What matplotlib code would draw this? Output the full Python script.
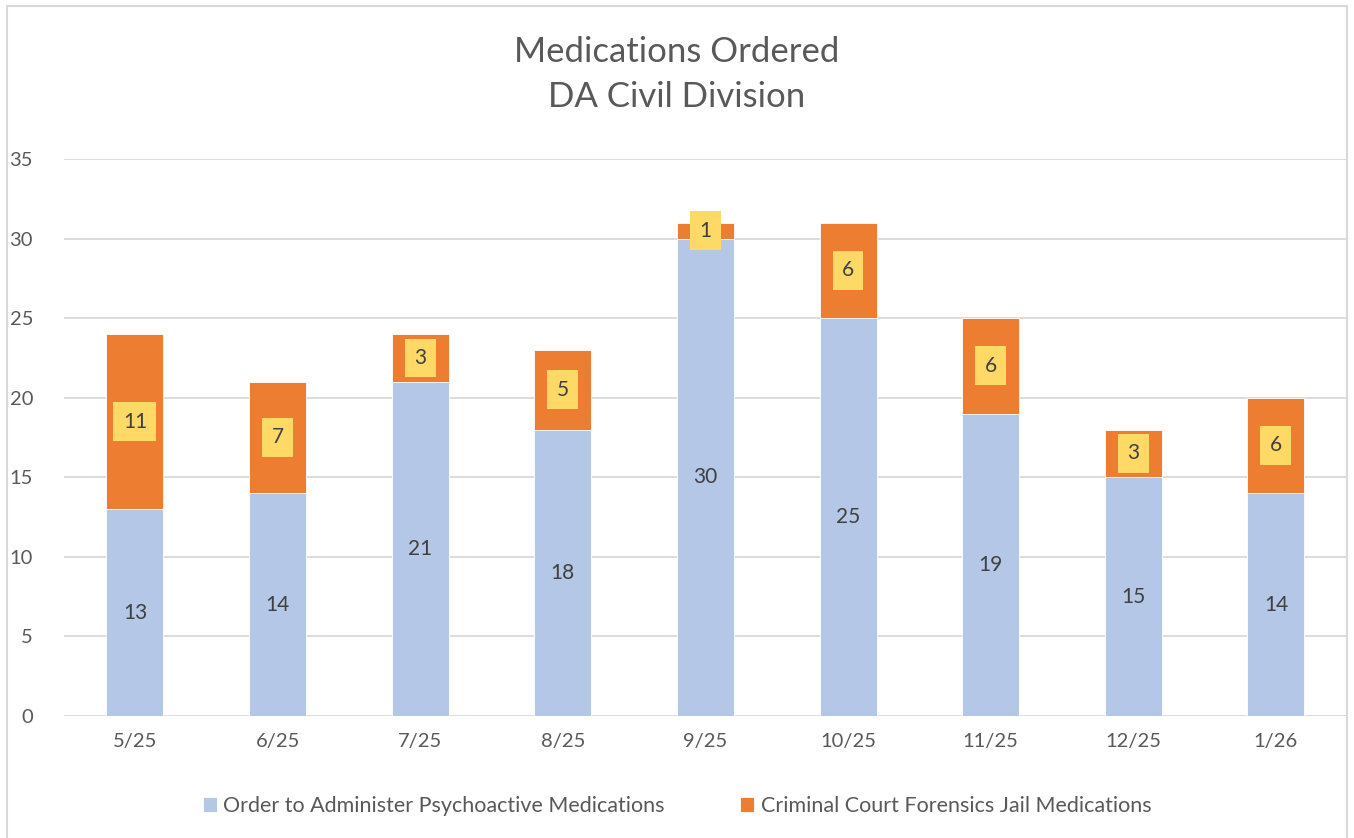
import matplotlib
matplotlib.use("Agg")
import matplotlib.pyplot as plt
from matplotlib.patches import Rectangle

plt.rcParams['font.family'] = ['Lato', 'DejaVu Sans']

# 資料
months = ["5/25", "6/25", "7/25", "8/25", "9/25", "10/25", "11/25", "12/25", "1/26"]
psychoactive = [13, 14, 21, 18, 30, 25, 19, 15, 14]
forensics = [11, 7, 3, 5, 1, 6, 6, 3, 6]
series_names = ["Order to Administer Psychoactive Medications",
                "Criminal Court Forensics Jail Medications"]

BLUE = "#B4C7E7"
ORANGE = "#ED7D31"
YELLOW = "#FFD966"
TEXT = "#595959"
GRID = "#D9D9D9"

fig = plt.figure(figsize=(13.54, 8.38), dpi=100)
ax = fig.add_axes([0.047, 0.1456, 0.948, 0.6647])

x = range(len(months))
ax.bar(x, psychoactive, width=0.4, color=BLUE, edgecolor="white", linewidth=0.6,
       label=series_names[0], zorder=2)
ax.bar(x, forensics, width=0.4, bottom=psychoactive, color=ORANGE, edgecolor="white",
       linewidth=0.6, label=series_names[1], zorder=2)

# 數據標籤
for i, (a, b) in enumerate(zip(psychoactive, forensics)):
    ax.text(i, a / 2, str(a), ha="center", va="center", fontsize=15, color="#404040", zorder=3)
    ax.text(i, a + b / 2, str(b), ha="center", va="center", fontsize=15, color="#404040", zorder=4,
            bbox=dict(boxstyle="square,pad=0.45", facecolor=YELLOW, edgecolor="none"))

ax.set_xlim(-0.5, len(months) - 0.5)
ax.set_ylim(0, 35)
ax.set_yticks(range(0, 36, 5))
ax.set_xticks(list(x))
ax.set_xticklabels(months)
ax.tick_params(axis="both", length=0, labelsize=14.5, labelcolor=TEXT)
ax.tick_params(axis="y", pad=22)
ax.tick_params(axis="x", pad=12)
ax.grid(True, axis="y", color=GRID, linewidth=1.3, zorder=0)
ax.set_axisbelow(True)
for s in ax.spines.values():
    s.set_visible(False)

fig.text(0.5, 0.911, "Medications Ordered\nDA Civil Division", ha="center", va="center",
         fontsize=25, color=TEXT, linespacing=1.5)

fig.legend(loc="center", bbox_to_anchor=(0.5, 0.038), ncol=2, frameon=False,
           fontsize=15.5, labelcolor=TEXT, handlelength=0.65, handleheight=0.65,
           handletextpad=0.3, columnspacing=3.5)

# 外框
fig.patches.append(Rectangle((7 / 1354, -0.01), 1340 / 1354, 1 - 6 / 838 + 0.01,
                             transform=fig.transFigure, fill=False, edgecolor=GRID,
                             linewidth=1.5))

fig.savefig("out.png", dpi=100, facecolor="white")
